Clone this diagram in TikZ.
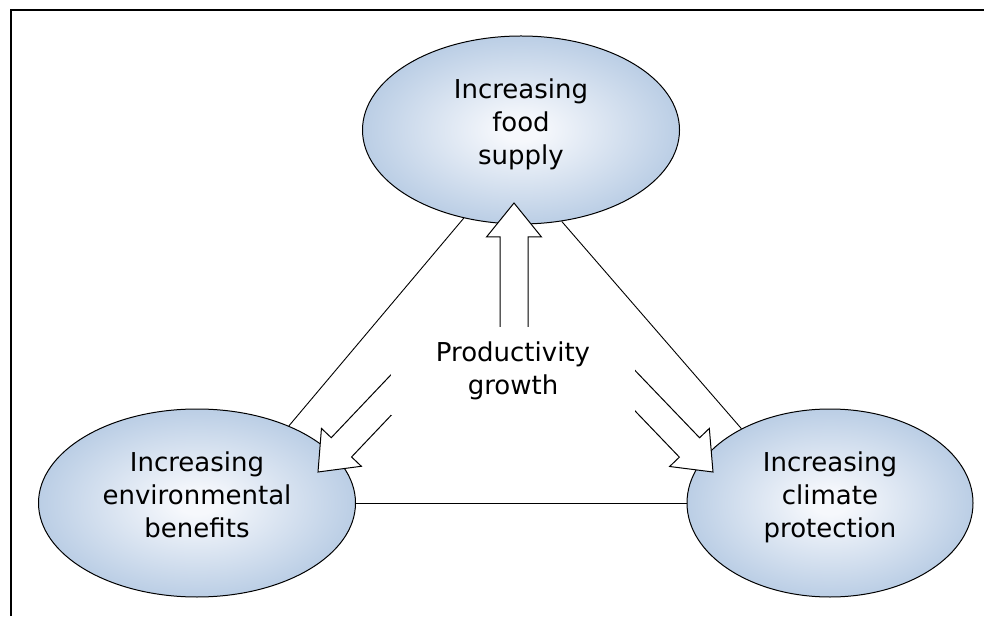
\documentclass[tikz,border=0pt]{standalone}
\usepackage{fontspec}
\setmainfont{DejaVu Sans}
\usetikzlibrary{positioning,shapes.geometric}
\definecolor{ellblue}{RGB}{184,204,228}
\definecolor{ellwhite}{RGB}{246,248,252}
\pgfdeclareradialshading{ellfill}{\pgfpoint{0bp}{0bp}}{%
  color(0bp)=(ellwhite); color(3bp)=(ellwhite); color(26bp)=(ellblue);
  color(50bp)=(ellblue)}
\tikzset{
  fig/.style={font=\fontsize{26}{33}\selectfont},
  goal/.style={ellipse,draw,line width=1pt,shading=ellfill,align=center,
               inner sep=0pt,text depth=16pt,minimum height=188pt},
  ln/.style={line width=0.9pt},
  barrow/.style={draw,fill=white,line width=1pt,line join=miter},
  blockarrow/.pic={
    \path[barrow] (-14,-160) -- (-14,-34) -- (-27.5,-34) -- (0,0)
      -- (27.5,-34) -- (14,-34) -- (14,-160);
  },
}
\begin{document}
\begin{tikzpicture}[fig,x=1pt,y=1pt]
\useasboundingbox (0,0) rectangle (984,616);
\draw[line width=1.6pt] (11,0) -- (11,606) -- (984,606);

\node[goal,minimum width=317pt] (food) at (521,486) {Increasing\\food\\supply};
\node[goal,minimum width=317pt] (env) at (197,113) {Increasing\\environmental\\benefits};
\node[goal,minimum width=286pt] (clim) at (830,113) {Increasing\\climate\\protection};

\draw[ln] (food.237.8) -- (env.40.9);
\draw[ln] (food.294) -- (clim.140.2);
\draw[ln] (env.east) -- (clim.west);

% block arrows out of the centre
\coordinate (tipfood) at (514,413);
\coordinate (tipenv) at (318,144);
\coordinate (tipclim) at (713,144);
\pic at (tipfood) {blockarrow};
\pic[rotate=136.5] at (tipenv) {blockarrow};
\pic[rotate=-136.2] at (tipclim) {blockarrow};

\node[fill=white,align=center,minimum width=244pt,minimum height=88pt] (prod)
  at (513,245) {Productivity\\growth};
\end{tikzpicture}
\end{document}
